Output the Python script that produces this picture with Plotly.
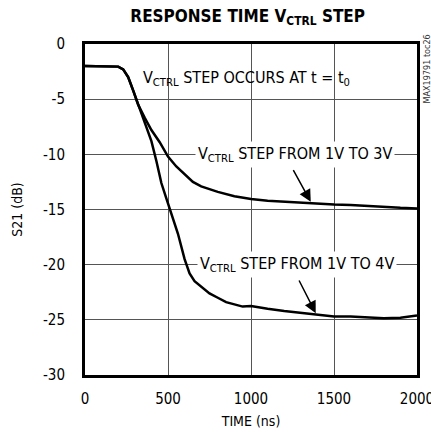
import plotly.graph_objects as go

# === Data ===
time_3v = [0, 100, 200, 230, 260, 290, 320, 360, 400, 450, 500, 550, 600, 650, 700,
           800, 900, 1000, 1100, 1200, 1300, 1400, 1500, 1600, 1700, 1800, 1900, 2000]
s21_3v = [-2.0, -2.0, -2.05, -2.3, -3.0, -4.2, -5.5, -6.7, -7.8, -8.9, -10.2, -11.1, -11.8,
          -12.5, -12.9, -13.4, -13.8, -14.05, -14.2, -14.3, -14.4, -14.5, -14.55, -14.6,
          -14.7, -14.75, -14.85, -14.9]

time_4v = [0, 100, 200, 230, 260, 290, 320, 350, 400, 430, 460, 490, 520, 560, 600, 630,
           660, 700, 750, 800, 850, 900, 950, 1000, 1050, 1100, 1200, 1300, 1400, 1500,
           1600, 1700, 1800, 1900, 2000]
s21_4v = [-2.0, -2.0, -2.05, -2.3, -3.0, -4.2, -5.5, -6.6, -8.8, -10.6, -12.6, -14.0,
          -15.3, -17.2, -19.5, -20.8, -21.5, -22.0, -22.6, -23.0, -23.4, -23.6, -23.8,
          -23.75, -23.9, -24.0, -24.2, -24.35, -24.5, -24.7, -24.7, -24.8, -24.85, -24.8,
          -24.6]

x_ticks = [0, 500, 1000, 1500, 2000]
y_ticks = [0, -5, -10, -15, -20, -25, -30]
y_tick_labels = ['0', '-5', '-10', '-15', '-20', '-25', '-30']

FONT = 'Liberation Sans Narrow, DejaVu Sans Condensed, sans-serif'

fig = go.Figure()

# === Curves ===
fig.add_trace(go.Scatter(x=time_3v, y=s21_3v, mode='lines',
                         line=dict(color='black', width=2.5), showlegend=False))
fig.add_trace(go.Scatter(x=time_4v, y=s21_4v, mode='lines',
                         line=dict(color='black', width=2.5), showlegend=False))

# === Labels ===
fig.add_annotation(x=975, y=-3.1, xref='x', yref='y', showarrow=False,
                   text='V<sub>CTRL</sub> STEP OCCURS AT t = t<sub>0</sub>',
                   font=dict(family=FONT, size=16, color='black'))
fig.add_annotation(x=1268, y=-10, xref='x', yref='y', showarrow=False,
                   text='V<sub>CTRL</sub> STEP FROM 1V TO 3V', bgcolor='white',
                   borderpad=2, font=dict(family=FONT, size=16, color='black'))
fig.add_annotation(x=1275, y=-20, xref='x', yref='y', showarrow=False,
                   text='V<sub>CTRL</sub> STEP FROM 1V TO 4V', bgcolor='white',
                   borderpad=2, font=dict(family=FONT, size=16, color='black'))

# Arrows
fig.add_annotation(x=1360, y=-14.3, ax=1250, ay=-11.3, xref='x', yref='y',
                   axref='x', ayref='y', text='', showarrow=True,
                   arrowhead=2, arrowsize=1.6, arrowwidth=1.5, arrowcolor='black')
fig.add_annotation(x=1390, y=-24.4, ax=1285, ay=-21.3, xref='x', yref='y',
                   axref='x', ayref='y', text='', showarrow=True,
                   arrowhead=2, arrowsize=1.6, arrowwidth=1.5, arrowcolor='black')

# Side note
fig.add_annotation(x=1.0, y=1.0, xref='paper', yref='paper', xanchor='left',
                   yanchor='top', xshift=2, yshift=11, textangle=-90, showarrow=False,
                   text='MAX19791 toc26', font=dict(family=FONT, size=9, color='#333'))

# === Layout ===
fig.update_layout(
    title=dict(text='<b>RESPONSE TIME V<sub>CTRL</sub> STEP</b>', x=0.49, xanchor='center',
               xref='paper', y=0.978, yanchor='top',
               font=dict(family=FONT, size=17, color='black')),
    width=431, height=438,
    paper_bgcolor='white',
    plot_bgcolor='white',
    font=dict(family=FONT, color='black', size=15),
    margin=dict(l=85, r=14, t=44, b=63, autoexpand=False),
)

fig.update_xaxes(
    range=[0, 2000], tickvals=x_ticks, ticks='', showgrid=True,
    gridcolor='#555', gridwidth=1, zeroline=False, automargin=False,
    showline=True, linecolor='black', linewidth=3, mirror=True,
    title=dict(text='TIME (ns)', standoff=10, font=dict(size=14)),
    tickfont=dict(size=15), ticklabelstandoff=8, ticklabeloverflow='allow',
)
fig.update_yaxes(
    range=[-30, 0], tickvals=y_ticks, ticktext=y_tick_labels, ticks='', showgrid=True,
    gridcolor='#555', gridwidth=1, zeroline=False, automargin=False,
    showline=True, linecolor='black', linewidth=3, mirror=True,
    title=dict(text='S21 (dB)', standoff=18, font=dict(size=14)),
    tickfont=dict(size=15), ticklabelstandoff=14,
)

# drop the default page margin so the 431x438 figure fills the window exactly
fig.write_html('out.html', config={'displayModeBar': False},
               post_script="document.body.style.margin='0';")
